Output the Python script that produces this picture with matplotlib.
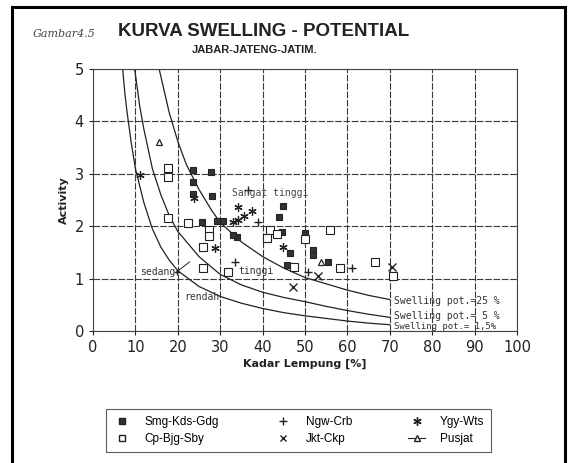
import matplotlib
matplotlib.use("Agg")
import matplotlib.pyplot as plt
from matplotlib.lines import Line2D
from matplotlib.patches import Rectangle

# --- data ---
# Smg-Kds-Gdg (filled squares)
smg_x = [23.6, 27.8, 23.6, 23.6, 28.0, 44.8, 43.9, 25.7, 30.7, 29.2, 34.0, 44.6,
         50.0, 46.5, 51.9, 51.9, 45.8, 55.5, 33.0]
smg_y = [3.07, 3.03, 2.84, 2.62, 2.58, 2.38, 2.17, 2.08, 2.10, 2.09, 1.79, 1.89,
         1.87, 1.49, 1.54, 1.45, 1.26, 1.31, 1.83]
# Cp-Bjg-Sby (open squares)
cp_x = [17.7, 17.7, 17.7, 22.4, 27.4, 27.4, 41.7, 41.0, 50.0, 55.9, 25.9, 25.9,
        31.8, 47.5, 58.3, 66.5, 70.8, 43.3]
cp_y = [3.12, 2.93, 2.15, 2.06, 1.92, 1.81, 1.92, 1.77, 1.75, 1.92, 1.60, 1.21,
        1.12, 1.22, 1.20, 1.31, 1.05, 1.86]
# Ngw-Crb (+)
ngw_x = [36.6, 38.9, 33.5, 50.7, 61.0]
ngw_y = [2.70, 2.08, 1.31, 1.12, 1.20]
# Jkt-Ckp (x)
jkt_x = [47.2, 53.0, 70.5]
jkt_y = [0.84, 1.05, 1.22]
# Ygy-Wts
ygy_x = [11.2, 34.3, 37.6, 35.6, 34.2, 33.1, 28.8, 44.8, 23.9]
ygy_y = [2.98, 2.36, 2.29, 2.19, 2.11, 2.08, 1.58, 1.60, 2.53]
# Pusjat
pus_x = [15.6, 53.7]
pus_y = [3.60, 1.31]

# swelling potential curves
c25_x = [15.6, 16, 18, 20, 22, 25, 28, 30, 35, 40, 45, 50, 55, 60, 65, 70]
c25_y = [5.0, 4.86, 4.16, 3.62, 3.18, 2.70, 2.30, 2.07, 1.70, 1.42, 1.20, 1.02,
         0.90, 0.78, 0.68, 0.60]
c5_x = [9.8, 10, 11, 12, 14, 16, 18, 20, 25, 30, 35, 40, 45, 50, 55, 60, 65, 70]
c5_y = [5.0, 4.9, 4.3, 3.85, 3.10, 2.60, 2.20, 1.90, 1.42, 1.08, 0.88, 0.74,
        0.64, 0.56, 0.47, 0.39, 0.32, 0.26]
c15_x = [7, 7.5, 8, 9, 10, 12, 14, 16, 18, 20, 25, 30, 35, 40, 45, 50, 55, 60, 65, 70]
c15_y = [5.0, 4.55, 4.2, 3.6, 3.1, 2.45, 1.95, 1.60, 1.35, 1.15, 0.85, 0.66,
         0.53, 0.43, 0.35, 0.29, 0.24, 0.19, 0.15, 0.12]

ink = "#222222"
mono = "DejaVu Sans Mono"

fig = plt.figure(figsize=(5.76, 4.63), dpi=100)
fig.patches.append(Rectangle((12 / 576, -0.05), (565 - 12) / 576, 1.05 - 7 / 463,
                             transform=fig.transFigure, fill=False,
                             edgecolor="black", linewidth=2.2))

ax = fig.add_axes([93 / 576, 1 - 331 / 463, (517 - 93) / 576, (331 - 69) / 463])

ax.plot(c25_x, c25_y, color=ink, lw=0.9)
ax.plot(c5_x, c5_y, color=ink, lw=0.9)
ax.plot(c15_x, c15_y, color=ink, lw=0.9)

ax.plot(smg_x, smg_y, ls="none", marker="s", ms=4.5, mfc="#333333", mec=ink, mew=0.8)
ax.plot(cp_x, cp_y, ls="none", marker="s", ms=5.5, mfc="white", mec=ink, mew=0.8)
ax.plot(ngw_x, ngw_y, ls="none", marker="+", ms=6, mec=ink, mew=1.0)
ax.plot(jkt_x, jkt_y, ls="none", marker="x", ms=6, mec=ink, mew=1.0)
ax.plot(ygy_x, ygy_y, ls="none", marker=(6, 2, 0), ms=6, mec=ink, mew=0.9)
ax.plot(pus_x, pus_y, ls="none", marker="^", ms=4.5, mfc="white", mec=ink, mew=0.9)

ax.set_xlim(0, 100)
ax.set_ylim(0, 5)
ax.set_xticks(range(0, 101, 10))
ax.set_yticks(range(0, 6))
ax.grid(True, color="#3a3a3a", lw=0.8, ls=(0, (6, 1.5)))
for s in ax.spines.values():
    s.set_color("#444444")
    s.set_linewidth(0.8)
ax.tick_params(labelsize=10.5, colors=ink, length=3)

# region labels
ax.text(32.8, 2.58, "Sangat tinggi", family=mono, fontsize=7, color="#444444")
ax.text(34.2, 1.08, "tinggi", family=mono, fontsize=7, color="#333333")
ax.text(21.5, 0.60, "rendah", family=mono, fontsize=7, color="#333333")
ax.text(19.5, 1.12, "sedang", family=mono, fontsize=7, color="#333333",
        ha="right", va="center")
ax.plot([19.6, 22.8], [1.12, 1.32], color=ink, lw=0.7)
ax.plot([19.8], [1.12], marker="+", ms=4, mec=ink, ls="none")

ax.text(71, 0.58, "Swelling pot.=25 %", family=mono, fontsize=7, color="#333333", va="center")
ax.text(71, 0.29, "Swelling pot.= 5 %", family=mono, fontsize=7, color="#333333", va="center")
ax.text(71, 0.09, "Swelling pot.= 1,5%", family=mono, fontsize=6.5, color="#333333", va="center")

ax.set_ylabel("Activity", fontsize=8, fontweight="bold", color=ink, labelpad=4)
ax.set_xlabel("Kadar Lempung [%]", fontsize=8, fontweight="bold", color=ink, labelpad=3)

fig.text(33 / 576, 1 - 34 / 463, "Gambar4.5", fontsize=8, color="#444444",
         family="DejaVu Serif", style="italic", va="center")
fig.text(118 / 576, 1 - 32 / 463, "KURVA SWELLING - POTENTIAL", fontsize=13.5,
         fontweight="bold", color=ink, va="center", family="Liberation Sans")
fig.text(255 / 576, 1 - 50 / 463, "JABAR-JATENG-JATIM.", fontsize=8,
         fontweight="bold", color=ink, va="center", ha="center", family="Liberation Sans")

handles = [
    Line2D([], [], ls="none", marker="s", ms=4, mfc="#333333", mec=ink),
    Line2D([], [], ls="none", marker="s", ms=5, mfc="white", mec=ink),
    Line2D([], [], ls="none", marker="+", ms=6, mec=ink),
    Line2D([], [], ls="none", marker="x", ms=5, mec=ink),
    Line2D([], [], ls="none", marker=(6, 2, 0), ms=6, mec=ink),
    Line2D([], [], ls="-", color=ink, lw=0.8, marker="^", ms=4, mfc="white", mec=ink),
]
labels = ["Smg-Kds-Gdg", "Cp-Bjg-Sby", "Ngw-Crb", "Jkt-Ckp", "Ygy-Wts", "Pusjat"]
leg = fig.legend(handles, labels, ncol=3, loc="center",
                 bbox_to_anchor=(100 / 576, 10 / 463, 397 / 576, 45 / 463),
                 mode="expand", fancybox=False, edgecolor="#333333",
                 prop={"family": "Liberation Sans", "size": 8.5},
                 handlelength=1.5, handletextpad=1.2, borderpad=0.6, labelspacing=0.4)
leg.get_frame().set_linewidth(0.8)

fig.savefig("out.png", dpi=100)
